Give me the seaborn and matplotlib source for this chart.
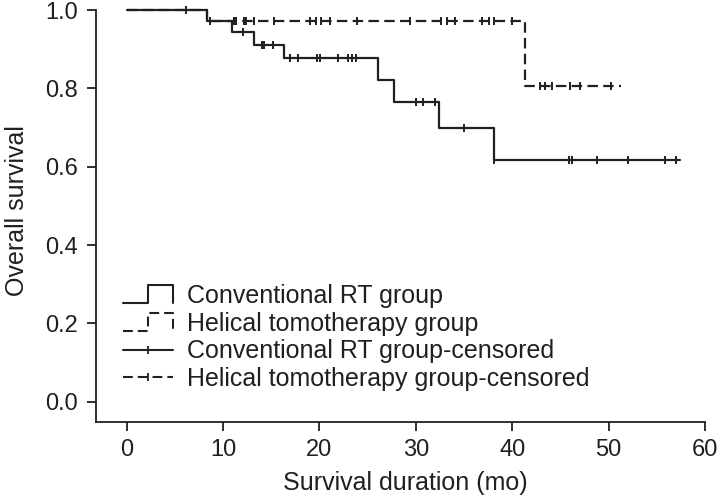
import numpy as np
import pandas as pd
import matplotlib
matplotlib.use('Agg')
import matplotlib.pyplot as plt
from matplotlib.lines import Line2D
from matplotlib.legend_handler import HandlerBase
import seaborn as sns

# Kaplan-Meier steps (time in months, survival)
conv_time = [0, 8.3, 10.9, 13.2, 16.3, 26.1, 27.7, 32.4, 38.1, 57.4]
conv_surv = [1.0, 0.973, 0.945, 0.912, 0.877, 0.821, 0.765, 0.698, 0.617, 0.617]
helical_time = [0, 8.3, 41.3, 51.3]
helical_surv = [1.0, 0.973, 0.807, 0.807]

# censored observations
conv_censor = [6.2, 12.1, 14.0, 14.3, 15.2, 17.0, 17.8, 19.8, 20.1, 21.9, 23.0, 23.4,
               23.8, 30.0, 30.8, 32.0, 35.0, 38.1, 45.9, 46.2, 48.8, 52.0, 55.9, 57.0]
helical_censor = [8.7, 11.1, 11.4, 12.2, 12.4, 13.2, 15.3, 19.0, 19.6, 20.2, 21.1, 23.9,
                  29.4, 32.6, 33.2, 34.1, 36.9, 37.6, 38.1, 40.0,
                  42.9, 43.4, 44.1, 46.0, 47.0, 50.3]

labels = ['Conventional RT group', 'Helical tomotherapy group',
          'Conventional RT group-censored', 'Helical tomotherapy group-censored']
x_ticks = [0, 10, 20, 30, 40, 50, 60]
y_ticks = [0.0, 0.2, 0.4, 0.6, 0.8, 1.0]

ink = '#231f20'
dash = (0, (4.7, 2.4))


def level_at(times, surv, t):
    # survival level of the step curve at time t
    idx = np.searchsorted(times, t, side='right') - 1
    return [surv[i] for i in idx]


conv_df = pd.DataFrame({'t': conv_time, 's': conv_surv})
hel_df = pd.DataFrame({'t': helical_time, 's': helical_surv})
conv_c = pd.DataFrame({'t': conv_censor, 's': level_at(conv_time, conv_surv, conv_censor)})
hel_c = pd.DataFrame({'t': helical_censor, 's': level_at(helical_time, helical_surv, helical_censor)})

sns.set_style('ticks')
plt.rcParams['font.family'] = ['Liberation Sans', 'DejaVu Sans']

fig = plt.figure(figsize=(7.19, 5.01), dpi=100)
ax = fig.add_axes([0.1331, 0.1577, 0.8608, 0.8423])

sns.lineplot(data=conv_df, x='t', y='s', drawstyle='steps-post', color=ink,
             lw=1.6, ax=ax, sort=False, estimator=None)
sns.lineplot(data=hel_df, x='t', y='s', drawstyle='steps-post', color=ink,
             lw=1.6, ls=dash, ax=ax, sort=False, estimator=None)
sns.scatterplot(data=conv_c, x='t', y='s', marker='|', s=32, color=ink,
                linewidth=1.4, ax=ax, clip_on=False)
sns.scatterplot(data=hel_c, x='t', y='s', marker='|', s=32, color=ink,
                linewidth=1.4, ax=ax, clip_on=False)

ax.set_xlim(-3.2, 61)
ax.set_ylim(-0.052, 1.026)
ax.set_xticks(x_ticks)
ax.set_yticks(y_ticks)
ax.set_yticklabels([f'{v:.1f}' for v in y_ticks])
sns.despine(ax=ax)
ax.spines['left'].set_bounds(-0.052, 1.0)
ax.spines['bottom'].set_bounds(-3.2, 60)
for sp in ['left', 'bottom']:
    ax.spines[sp].set_linewidth(1.3)
    ax.spines[sp].set_color(ink)
ax.tick_params(axis='both', labelsize=17, length=6.5, width=1.3, color=ink,
               labelcolor=ink, pad=6)
ax.set_xlabel('Survival duration (mo)', fontsize=18, color=ink, labelpad=7)
ax.set_ylabel('Overall survival', fontsize=18, color=ink, labelpad=12)


class StepHandler(HandlerBase):
    def __init__(self, linestyle):
        super().__init__()
        self.linestyle = linestyle

    def create_artists(self, legend, orig_handle, xdescent, ydescent,
                       width, height, fontsize, trans):
        x0, y0 = -xdescent, -ydescent
        xs = [x0, x0 + 0.5 * width, x0 + 0.5 * width, x0 + width, x0 + width]
        ys = [y0, y0, y0 + height, y0 + height, y0]
        ln = Line2D(xs, ys, color=ink, lw=1.5, linestyle=self.linestyle, transform=trans)
        return [ln]


h1 = Line2D([], [], color=ink)
h2 = Line2D([], [], color=ink)
h3 = Line2D([], [], color=ink, lw=1.5, marker='|', ms=6, mew=1.3)
h4 = Line2D([], [], color=ink, lw=1.5, ls=dash, marker='|', ms=6, mew=1.3)
ax.legend([h1, h2, h3, h4], labels,
          handler_map={h1: StepHandler('-'), h2: StepHandler(dash)},
          loc='center left', bbox_to_anchor=(123 / 719, 1 - 337.5 / 501),
          bbox_transform=fig.transFigure, frameon=False, fontsize=18,
          handlelength=2.0, handleheight=0.72, handletextpad=0.56,
          labelspacing=0.15, borderpad=0, borderaxespad=0, numpoints=1,
          labelcolor=ink)

fig.savefig('out.png', dpi=100)
